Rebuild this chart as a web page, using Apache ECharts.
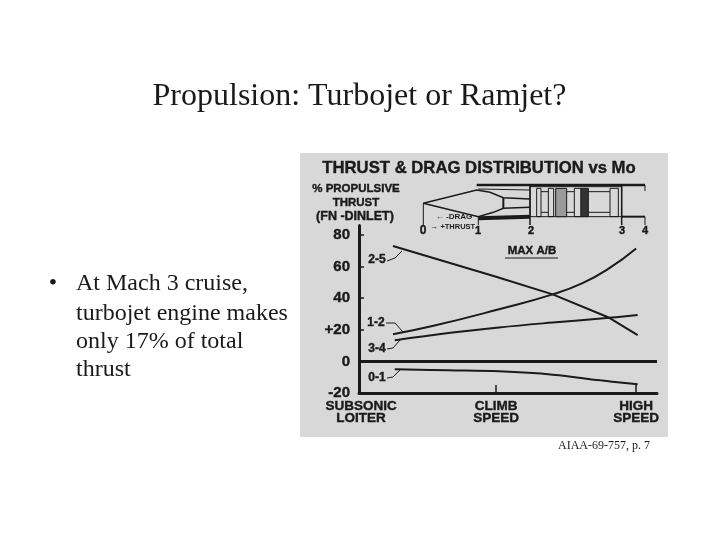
<!DOCTYPE html>
<html><head><meta charset="utf-8">
<style>html,body{margin:0;padding:0;background:#fff}#c{width:720px;height:540px}</style>
<script src="https://cdn.jsdelivr.net/npm/echarts@6/dist/echarts.min.js"></script>
</head><body><div id="c"></div>
<script>
// Position along the speed axis, in percent of its length
const speedTicks = [0.7, 46, 93];
const speedLabels = ['SUBSONIC\nLOITER', 'CLIMB\nSPEED', 'HIGH\nSPEED'];
const thrustTicks = [-20, 0, 20, 40, 60, 80];
const thrustLabels = {'-20':'-20', '0':'0', '20':'+20', '40':'40', '60':'60', '80':'80'};

const seriesNames = ['2-5', '1-2', '3-4', '0-1'];
const x25 = [11.4, 46, 65, 84, 93.5];
const y25 = [73, 53.6, 42.4, 27.6, 16.6];
const x12 = [11.4, 25, 47, 65, 75, 84, 93];
const y12 = [17.2, 22.5, 33, 42.4, 49.5, 59, 71.5];
const x34 = [12, 30, 47, 65, 84, 93.5];
const y34 = [13.4, 18, 21.5, 24.6, 27.6, 29.3];
const x01 = [12, 30, 47, 65, 81, 93.5];
const y01 = [-5, -5.6, -6.3, -8.4, -12, -14.5];
const xZero = [0, 100];
const yZero = [0, 0];

const ink = '#1a1a1a';
const sans = '"Liberation Sans", Arial, sans-serif';
const serif = '"Liberation Serif", "Times New Roman", serif';
const pairs = (xs, ys) => xs.map((x, i) => [x, ys[i]]);
const line = (name, xs, ys, width, smooth) => ({
  name, type: 'line', data: pairs(xs, ys), showSymbol: false, symbol: 'none', smooth: smooth,
  lineStyle: {color: ink, width: width}, silent: true, z: 3
});
const T = (x, y, text, font, opts) => ({type:'text', z:5, style:Object.assign({x, y, text, fill:ink, font,
  textAlign:'center', textVerticalAlign:'middle'}, opts||{})});
const H = (x, y, text, font) => T(x, y, text, font, {stroke:ink, lineWidth:0.4});
const P = (pts, w) => ({type:'polyline', z:4, shape:{points:pts}, style:{stroke:ink, lineWidth:w||1, fill:null}});
const zx = v => 415 + v/3, zy = v => 175 + v/3;
const Z = (pts, w) => P(pts.map(p => [zx(p[0]), zy(p[1])]), w);
const band = (a, b, fill) => ({type:'rect', z:4, shape:{x:zx(a), y:zy(40), width:(b-a)/3, height:85/3},
  style:{fill:fill||'none', stroke:ink, lineWidth:1}});
const bodyFont = '24px '+serif;

const graphic = [
  {type:'rect', z:-1, shape:{x:300,y:153,width:368,height:284}, style:{fill:'#d8d8d8'}},
  T(359.5, 97, 'Propulsion: Turbojet or Ramjet?', '32px '+serif),
  T(53, 284, '•', bodyFont),
  T(76, 284, 'At Mach 3 cruise,', bodyFont, {textAlign:'left'}),
  T(76, 314, 'turbojet engine makes', bodyFont, {textAlign:'left'}),
  T(76, 342, 'only 17% of total', bodyFont, {textAlign:'left'}),
  T(76, 370, 'thrust', bodyFont, {textAlign:'left'}),
  T(604, 446, 'AIAA-69-757, p. 7', '12px '+serif),
  H(479, 168, 'THRUST & DRAG DISTRIBUTION vs Mo', 'bold 16.7px '+sans),
  H(356, 189, '% PROPULSIVE', 'bold 11.5px '+sans),
  H(356, 203, 'THRUST', 'bold 11.5px '+sans),
  H(355, 217, '(FN -DINLET)', 'bold 12.5px '+sans),
  H(423, 231, '0', 'bold 12px '+sans),
  H(478, 231, '1', 'bold 11px '+sans),
  H(531, 231, '2', 'bold 11px '+sans),
  H(622, 231, '3', 'bold 11px '+sans),
  H(645, 231, '4', 'bold 11px '+sans),
  H(532, 251, 'MAX A/B', 'bold 11.5px '+sans),
  P([[505,258],[558,258]], 1),
  T(454, 217, '← -DRAG', 'bold 8px '+sans),
  T(453, 227, '→ +THRUST', 'bold 7.5px '+sans),
  H(377, 260, seriesNames[0], 'bold 12px '+sans),
  H(376, 323, seriesNames[1], 'bold 12px '+sans),
  H(377, 349, seriesNames[2], 'bold 12px '+sans),
  H(377, 378, seriesNames[3], 'bold 12px '+sans),
  P([[387,261],[395,258],[402,251]]),
  P([[386,323],[395,323],[403,332]]),
  P([[387,349],[393,348],[400,340]]),
  P([[387,378],[393,377],[400,370]]),
  // engine schematic
  Z([[25,85],[185,45],[225,52],[265,68],[345,72]], 1.5),
  Z([[25,85],[190,125],[235,112],[265,100],[345,97]], 1.5),
  Z([[185,30],[690,30]], 2.5),
  Z([[190,42],[345,45]], 1),
  Z([[190,130],[345,125]], 4),
  Z([[265,68],[265,100]], 2),
  Z([[620,125],[690,125]], 2),
  Z([[690,30],[690,48]], 1),
  Z([[25,85],[25,150]], 1),
  Z([[190,125],[190,150]], 1),
  Z([[345,30],[345,150]], 1.5),
  Z([[620,30],[620,150]], 1.5),
  Z([[690,125],[690,150]], 1),
  {type:'rect', z:4, shape:{x:zx(345), y:zy(35), width:275/3, height:90/3}, style:{fill:'none', stroke:ink, lineWidth:1}},
  band(365,378), band(400,416), band(422,455,'#9a9a9a'), band(478,498), band(498,520,'#333'), band(585,610),
  Z([[378,50],[400,50]], 1), Z([[378,112],[400,112]], 1),
  Z([[455,50],[478,50]], 1), Z([[455,112],[478,112]], 1),
  Z([[520,50],[585,50]], 1), Z([[520,112],[585,112]], 1)
];

const chart = echarts.init(document.getElementById('c'));
chart.setOption({
  backgroundColor: '#fff',
  animation: false,
  graphic: graphic,
  grid: {left: 359, top: 225.5, width: 298, height: 167.5, containLabel: false},
  xAxis: {
    type: 'value', min: 0, max: 100, splitLine: {show:false},
    axisLine: {onZero:false, lineStyle:{color:ink, width:3}},
    axisTick: {show:true, inside:true, length:8, customValues:[46, 93], lineStyle:{color:ink, width:1.5}},
    axisLabel: {customValues: speedTicks, margin:7, color:ink, fontFamily:sans, fontWeight:'bold', fontSize:13.5, lineHeight:12.5,
      hideOverlap:false, showMinLabel:true, showMaxLabel:true, textBorderColor:ink, textBorderWidth:0.4,
      formatter: v => speedLabels[speedTicks.indexOf(v)] || ''}
  },
  yAxis: {
    type: 'value', min: -20, max: 86, splitLine: {show:false},
    axisLine: {onZero:false, lineStyle:{color:ink, width:3}},
    axisTick: {show:true, inside:true, length:5, customValues:thrustTicks.slice(1), lineStyle:{color:ink, width:1.5}},
    axisLabel: {customValues: thrustTicks, margin:9, color:ink, fontFamily:sans, fontWeight:'bold', fontSize:15,
      showMinLabel:true, textBorderColor:ink, textBorderWidth:0.4, formatter: v => thrustLabels[v]}
  },
  series: [
    line(seriesNames[0], x25, y25, 2, false),
    line(seriesNames[1], x12, y12, 2, 0.5),
    line(seriesNames[2], x34, y34, 2, 0.4),
    line(seriesNames[3], x01, y01, 2, 0.4),
    line('0', xZero, yZero, 3, false)
  ]
});
</script></body></html>
